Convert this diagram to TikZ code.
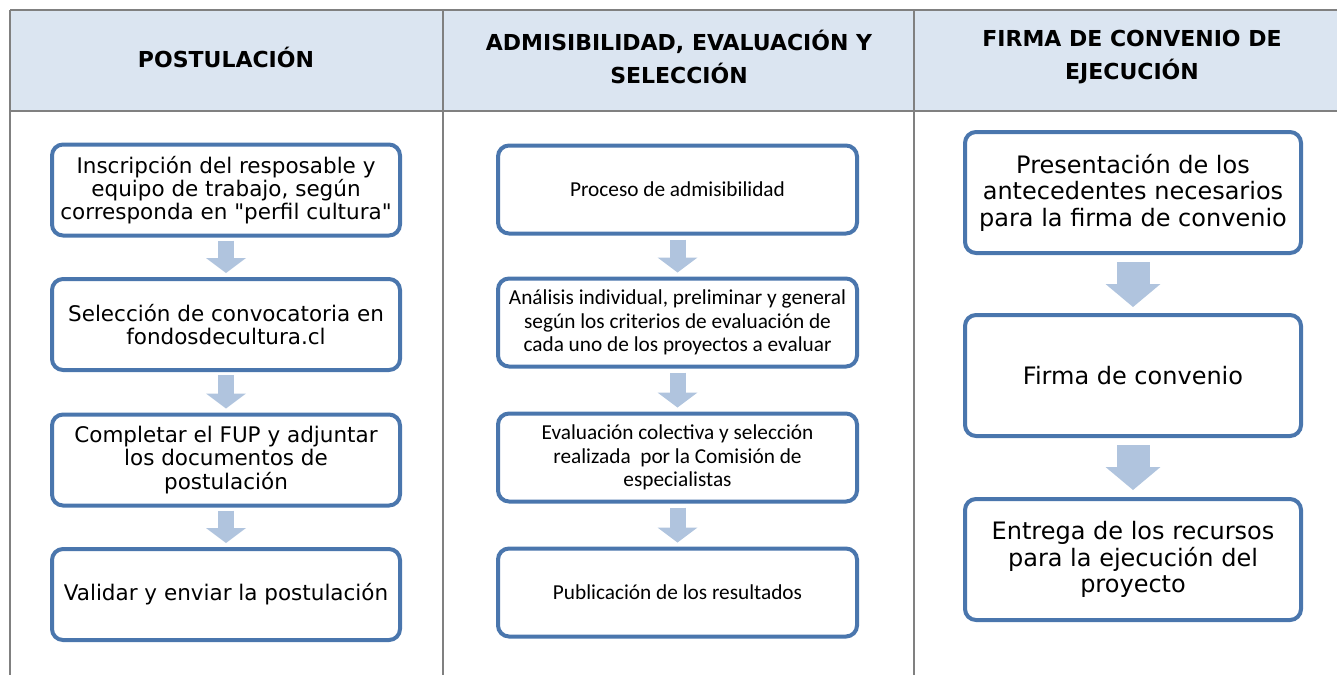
\documentclass[tikz,border=0pt]{standalone}
\usepackage{fontspec}
\setmainfont{DejaVu Sans}[Ligatures=TeXOff]
\newfontfamily\calib{Carlito}
\usetikzlibrary{arrows.meta}
\definecolor{boxblue}{RGB}{74,118,173}
\definecolor{arrowblue}{RGB}{176,196,222}
\definecolor{headfill}{RGB}{219,229,241}
\definecolor{gridgray}{RGB}{128,128,128}
\begin{document}
\begin{tikzpicture}[x=1pt,y=-1pt,
  stepbox/.style={draw=boxblue, line width=4pt, rounded corners=11pt, fill=white, align=center, inner sep=0pt},
  lbox/.style={stepbox, minimum width=348pt, minimum height=91pt, font=\fontsize{21.5}{23.3}\selectfont},
  mbox/.style={stepbox, minimum width=359pt, minimum height=88pt, font=\calib\fontsize{21.3}{23.3}\selectfont},
  rbox/.style={stepbox, minimum width=336pt, minimum height=121pt, font=\fontsize{24}{26.6}\selectfont},
  headtxt/.style={align=center, inner sep=0pt, font=\bfseries\fontsize{22}{32.5}\selectfont},
  grid/.style={draw=gridgray, line width=1.3pt},
  flow/.style={draw=arrowblue, line width=16pt, -{Triangle[width=40pt,length=15pt,line width=0pt]}},
  bigflow/.style={draw=arrowblue, line width=33pt, -{Triangle[width=55pt,length=23pt,line width=0pt]}}
]
\useasboundingbox (0,0) rectangle (1337,675);
% table
\fill[headfill] (10,10) rectangle (1337,111);
\draw[grid] (10,10) -- (1337,10);
\draw[grid] (10,111) -- (1337,111);
\draw[grid] (10,10) -- (10,675);
\draw[grid] (443,10) -- (443,675);
\draw[grid] (914,10) -- (914,675);
% headers
\node[headtxt] (h1) at (226,57) {POSTULACIÓN};
\node[headtxt] (h2) at (679,57) {ADMISIBILIDAD, EVALUACIÓN Y\\SELECCIÓN};
\node[headtxt] (h3) at (1132,57) {FIRMA DE CONVENIO DE\\EJECUCIÓN};
% left column
\node[lbox] (L1) at (226,190) {Inscripción del resposable y\\equipo de trabajo, según\\corresponda en "perfil cultura"};
\node[lbox] (L2) at (226,324.5) {Selección de convocatoria en\\fondosdecultura.cl};
\node[lbox] (L3) at (226,460) {Completar el FUP y adjuntar\\los documentos de\\postulación};
\node[lbox] (L4) at (226,594.5) {Validar y enviar la postulación};
\draw[flow, shorten <=3pt, shorten >=4pt] (L1) -- (L2);
\draw[flow, shorten <=3pt, shorten >=4pt] (L2) -- (L3);
\draw[flow, shorten <=3pt, shorten >=4pt] (L3) -- (L4);
% middle column
\node[mbox] (M1) at (677.5,189.5) {Proceso de admisibilidad};
\node[mbox] (M2) at (677.5,322.5) {Análisis individual, preliminar y general\\según los criterios de evaluación de\\cada uno de los proyectos a evaluar};
\node[mbox] (M3) at (677.5,457.5) {Evaluación colectiva y selección\\realizada\ \ por la Comisión de\\especialistas};
\node[mbox] (M4) at (677.5,592.5) {Publicación de los resultados};
\draw[flow, shorten <=4pt, shorten >=4pt] (M1) -- (M2);
\draw[flow, shorten <=4pt, shorten >=4pt] (M2) -- (M3);
\draw[flow, shorten <=4pt, shorten >=4pt] (M3) -- (M4);
% right column
\node[rbox] (R1) at (1133,192.5) {Presentación de los\\antecedentes necesarios\\para la firma de convenio};
\node[rbox] (R2) at (1133,375.5) {Firma de convenio};
\node[rbox] (R3) at (1133,559.5) {Entrega de los recursos\\para la ejecución del\\proyecto};
\draw[bigflow, shorten <=7pt, shorten >=6pt] (R1) -- (R2);
\draw[bigflow, shorten <=7pt, shorten >=7pt] (R2) -- (R3);
\end{tikzpicture}
\end{document}
